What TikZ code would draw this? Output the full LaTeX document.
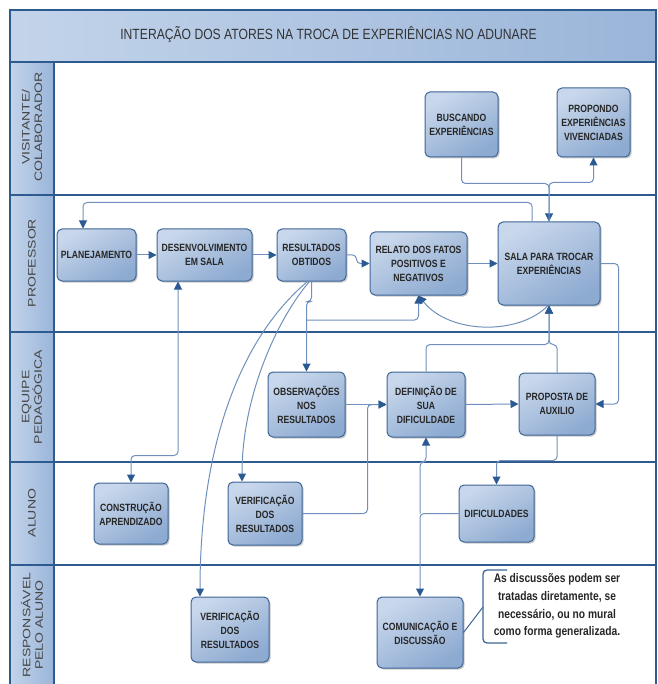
\documentclass[tikz,border=0pt]{standalone}
\usepackage{fontspec}
\setmainfont{Liberation Sans}
\newfontfamily\narrowfont[FakeStretch=0.82]{Liberation Sans}
\newfontfamily\widefont[FakeStretch=1.3]{Liberation Sans}
\usetikzlibrary{arrows.meta,shadows,calc}
\definecolor{frameblue}{HTML}{2E5B8F}
\definecolor{boxborder}{HTML}{3D6597}
\definecolor{boxlight}{HTML}{C8D7EB}
\definecolor{boxdark}{HTML}{8DAAD1}
\definecolor{connblue}{HTML}{6F90BD}
\definecolor{arrowblue}{HTML}{2B5A92}
\definecolor{bandlight}{HTML}{C3D4EA}
\definecolor{banddark}{HTML}{9AB5D9}
\definecolor{txtgray}{HTML}{262626}
\definecolor{lblgray}{HTML}{454545}
\tikzset{
  procbox/.style={draw=boxborder, line width=1pt, rounded corners=5pt,
    top color=boxlight, bottom color=boxdark, shading angle=30,
    drop shadow={shadow xshift=1.5pt, shadow yshift=-1.5pt, opacity=0.35, fill=black!60},
    align=center, text=txtgray, inner sep=2pt,
    font=\narrowfont\bfseries\fontsize{10.5}{14}\selectfont},
  conn/.style={draw=connblue, line width=1pt, rounded corners=4pt},
  arr/.style={-{Triangle[length=8pt,width=8pt,color=arrowblue]}},
  barr/.style={{Triangle[length=8pt,width=8pt,color=arrowblue]}-{Triangle[length=8pt,width=8pt,color=arrowblue]}},
  frameline/.style={draw=frameblue, line width=1.5pt},
  lanelabel/.style={rotate=90, align=center, text=lblgray,
    font=\widefont\fontsize{10.8}{12.5}\selectfont}
}
\begin{document}
\begin{tikzpicture}[x=1pt,y=-1pt]
\useasboundingbox (0,0) rectangle (657,684);
% bands
\fill[left color=bandlight, right color=banddark] (10,10) rectangle (657,62);
\fill[left color=bandlight, right color=banddark] (10,62) rectangle (54,684);
\node[font=\narrowfont\fontsize{14.8}{16}\selectfont, text=black!80] (title) at (328.5,35) {INTERAÇÃO DOS ATORES NA TROCA DE EXPERIÊNCIAS NO ADUNARE};
% frame lines
\draw[frameline] (10,684) -- (10,10) -- (656,10) -- (656,684);
\foreach \yy in {62,195,332,462,565} { \draw[frameline] (10,\yy) -- (656,\yy); }
\draw[frameline] (54,62) -- (54,684);
% lane labels
\node[lanelabel] (l1) at (32,127) {VISITANTE/\\COLABORADOR};
\node[lanelabel] (l2) at (32,263) {PROFESSOR};
\node[lanelabel] (l3) at (32,397) {EQUIPE\\PEDAGÓGICA};
\node[lanelabel] (l4) at (32,513) {ALUNO};
\node[lanelabel] (l5) at (32,625) {RESPONSÁVEL\\PELO ALUNO};
% boxes
\node[procbox, minimum width=73pt, minimum height=65pt] (busc) at (461.5,124.5) {BUSCANDO\\EXPERIÊNCIAS};
\node[procbox, minimum width=73pt, minimum height=69pt] (prop) at (593.5,122.5) {PROPONDO\\EXPERIÊNCIAS\\VIVENCIADAS};
\node[procbox, minimum width=79pt, minimum height=52pt] (plan) at (96.5,255) {PLANEJAMENTO};
\node[procbox, minimum width=95pt, minimum height=52pt] (desenv) at (204.5,255) {DESENVOLVIMENTO\\EM SALA};
\node[procbox, minimum width=69pt, minimum height=52pt] (result) at (311.5,255) {RESULTADOS\\OBTIDOS};
\node[procbox, minimum width=97pt, minimum height=63pt] (relato) at (418.5,263.5) {RELATO DOS FATOS\\POSITIVOS E\\NEGATIVOS};
\node[procbox, minimum width=102pt, minimum height=83pt] (sala) at (549,263.5) {SALA PARA TROCAR\\EXPERIÊNCIAS};
\node[procbox, minimum width=77pt, minimum height=65pt] (obs) at (306.5,404.5) {OBSERVAÇÕES\\NOS\\RESULTADOS};
\node[procbox, minimum width=78pt, minimum height=65pt] (defin) at (426,404.5) {DEFINIÇÃO DE\\SUA\\DIFICULDADE};
\node[procbox, minimum width=76pt, minimum height=62pt] (propo) at (557,404) {PROPOSTA DE\\AUXILIO};
\node[procbox, minimum width=74pt, minimum height=61pt] (constr) at (131,513.5) {CONSTRUÇÃO\\APRENDIZADO};
\node[procbox, minimum width=74pt, minimum height=63pt] (verA) at (265,513.5) {VERIFICAÇÃO\\DOS\\RESULTADOS};
\node[procbox, minimum width=75pt, minimum height=57pt] (dific) at (496.5,513.5) {DIFICULDADES};
\node[procbox, minimum width=78pt, minimum height=65pt] (verR) at (230,629.5) {VERIFICAÇÃO\\DOS\\RESULTADOS};
\node[procbox, minimum width=86pt, minimum height=71pt] (comun) at (420,632.5) {COMUNICAÇÃO E\\DISCUSSÃO};
% connectors
\draw[conn, arr] (busc.south) -- ++(0,26) -| (sala.north);
\draw[conn, arr] (sala.north) -- ++(0,-39) -| (prop.south);
\draw[conn, arr] ([xshift=-17pt]sala.north) -- ++(0,-19) -| ([xshift=-13.5pt]plan.north);
\draw[conn, arr] (plan.east) -- (desenv.west);
\draw[conn, arr] (desenv.east) -- (result.west);
\draw[conn, arr] (result.east) -- ++(10,0) |- (relato.west);
\draw[conn, arr] (relato.east) -- (sala.west);
\draw[conn, arr] (sala.east) -- ++(18,0) |- (propo.east);
\draw[conn, arr] ([xshift=-1pt]sala.south) .. controls (520,335) and (450,335) .. (relato.south);
\draw[conn, arr] (result.south) -- ++(0,20) -| (obs.north);
\coordinate (j1) at (306.5,320);
\draw[conn, arr] (j1) -| (relato.south);
\draw[conn, arr] ([xshift=-2pt]result.south) .. controls (278,318) and (242,395) .. ([xshift=-23pt]verA.north);
\draw[conn, arr] ([xshift=-4pt]result.south) .. controls (238,340) and (200,450) .. ([xshift=-30pt]verR.north);
\draw[conn, barr] ([xshift=-26.5pt]desenv.south) -- ++(0,174) -| (constr.north);
\draw[conn, arr] (verA.east) -| ([xshift=-19pt]defin.west) -- (defin.west);
\draw[conn, arr] (obs.east) -- (defin.west);
\draw[conn, arr] (defin.east) -- (propo.west);
\draw[conn, arr] (defin.north) -- ++(0,-27) -| (sala.south);
\draw[conn, arr] (propo.north) -- ++(0,-28) -| (sala.south);
\draw[conn, arr] (propo.south) -- ++(0,25) -| (dific.north);
\draw[conn, arr] (dific.west) -| (comun.north);
\coordinate (j2) at (420,513.5);
\draw[conn, arr] (j2) -- (420,462) -| (defin.south);
% callout
\node[align=center, text=txtgray, font=\narrowfont\bfseries\fontsize{12.5}{17.6}\selectfont] (note) at (557,606) {As discussões podem ser\\tratadas diretamente, se\\necessário, ou no mural\\como forma generalizada.};
\draw[draw=boxborder, line width=1.3pt, rounded corners=4pt] (507,570) -- (483,570) -- (483,643) -- (507,643);
\coordinate (nb) at (483,607);
\draw[draw=boxborder, line width=1pt] (comun.east) -- (nb);
\end{tikzpicture}
\end{document}
